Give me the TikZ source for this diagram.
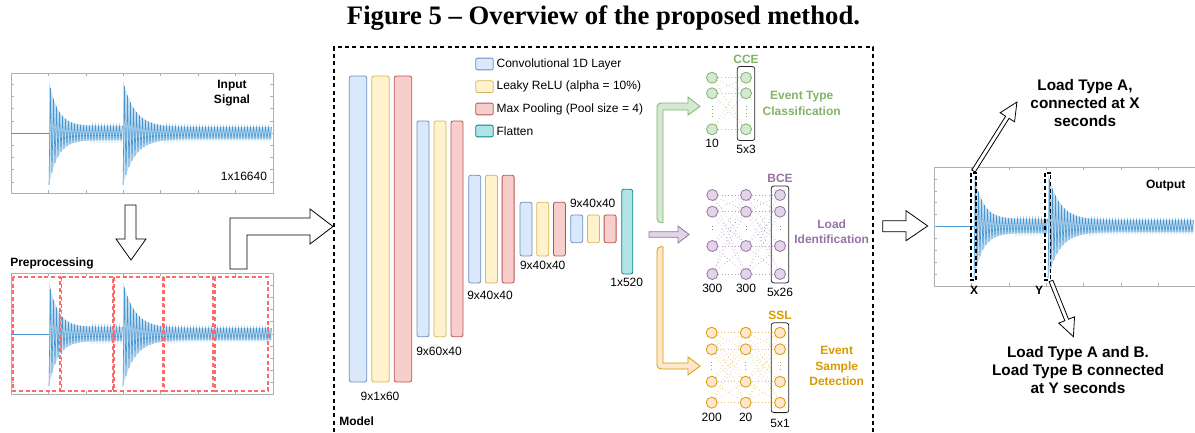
\documentclass[tikz,border=0pt]{standalone}
\usepackage{fontspec}
\setmainfont{Liberation Sans}
\newfontfamily\titlefont{Liberation Serif}
\usetikzlibrary{positioning,fit,calc}
\definecolor{convfill}{HTML}{DAE8FC}\definecolor{convdraw}{HTML}{6C8EBF}
\definecolor{relufill}{HTML}{FFF2CC}\definecolor{reludraw}{HTML}{D6B656}
\definecolor{poolfill}{HTML}{F8CECC}\definecolor{pooldraw}{HTML}{B85450}
\definecolor{flatfill}{HTML}{B0E3E6}\definecolor{flatdraw}{HTML}{0E8088}
\definecolor{ccefill}{HTML}{D5E8D4}\definecolor{ccedraw}{HTML}{82B366}
\definecolor{bcefill}{HTML}{E1D5E7}\definecolor{bcedraw}{HTML}{9673A6}
\definecolor{sslfill}{HTML}{FFE6CC}\definecolor{ssldraw}{HTML}{D79B00}
\definecolor{sigblue}{RGB}{70,150,210}
\definecolor{axisgrey}{RGB}{175,175,175}
\definecolor{winred}{RGB}{255,105,105}
% onset x, centre y, last sample, number of samples after the second onset
\newcommand{\drawsignal}[4]{%
  \draw[sig] (#1-38,#2) -- (#1,#2);
  \fill[sigband] plot[domain=0:49, samples=50] ({#1+1.5*\x}, {#2-(7+45*exp(-1.5*\x/9))})
    -- plot[domain=49:0, samples=50] ({#1+1.5*\x}, {#2+(7+45*exp(-1.5*\x/9))}) -- cycle;
  \fill[sigband] plot[domain=0:#3, samples=#4] ({#1+74+1.5*\x}, {#2-(6+46*exp(-1.5*\x/12))})
    -- plot[domain=#3:0, samples=#4] ({#1+74+1.5*\x}, {#2+(6+46*exp(-1.5*\x/12))}) -- cycle;
  \draw[sig] plot[domain=0:49, samples=50] ({#1+1.5*\x}, {#2+(7+45*exp(-1.5*\x/9))*cos(180*mod(\x,2))});
  \draw[sig] plot[domain=0:#3, samples=#4] ({#1+74+1.5*\x}, {#2+(6+46*exp(-1.5*\x/12))*cos(180*mod(\x,2))});
}
% start, angle, length
\newcommand{\thinarrow}[3]{%
  \draw[hollow, shift={#1}, rotate=#2] (0,-2) -- (#3-18,-2) -- (#3-18,-8.5) -- (#3,0)
    -- (#3-18,8.5) -- (#3-18,2) -- (0,2) -- cycle;
}

\begin{document}
\begin{tikzpicture}[x=0.75pt, y=-0.75pt]
\tikzstyle{lbl}=[font=\fontsize{9}{11.5}\selectfont, inner sep=0pt]
\tikzstyle{blbl}=[lbl, font=\fontsize{9}{11.5}\selectfont\bfseries, align=center]
\tikzstyle{note}=[inner sep=0pt, align=center, font=\fontsize{11.5}{13.5}\selectfont\bfseries]
\tikzstyle{sig}=[sigblue, line width=0.45pt]
\tikzstyle{sigband}=[sigblue!30]
\tikzstyle{frame}=[axisgrey, line width=0.6pt]
\tikzstyle{tick}=[axisgrey, line width=0.4pt]
\tikzstyle{win}=[winred, line width=1.3pt, dash pattern=on 3pt off 2pt]
\tikzstyle{markbox}=[black, line width=1.4pt, dash pattern=on 3pt off 2pt]
\tikzstyle{hollow}=[draw=black, fill=white, line width=0.6pt]
\tikzstyle{conv}=[draw=convdraw, fill=convfill, rounded corners=1.5pt, line width=0.6pt]
\tikzstyle{relu}=[conv, draw=reludraw, fill=relufill]
\tikzstyle{pool}=[conv, draw=pooldraw, fill=poolfill]
\tikzstyle{flat}=[conv, draw=flatdraw, fill=flatfill]
\tikzstyle{legbox}=[minimum width=13.2pt, minimum height=8.8pt, inner sep=0pt]
\tikzstyle{neuron}=[circle, minimum size=8.25pt, inner sep=0pt, line width=0.6pt]
\tikzstyle{outbox}=[draw=black!85, rounded corners=2pt, line width=0.6pt, inner xsep=2.2pt]

\useasboundingbox (0,0) rectangle (1195,432);

\node[inner sep=0pt, font=\titlefont\fontsize{20}{24}\selectfont\bfseries] (title) at (603.5,18)
  {Figure 5 \textendash{} Overview of the proposed method.};

% input signal
\draw[frame] (11,73) rectangle (273,193);
\foreach \y in {84.3,96.5,...,182} {
  \draw[tick] (11,\y) -- ++(3,0); \draw[tick] (273,\y) -- ++(-3,0);
}
\foreach \x in {48.4,85.8,...,236} {
  \draw[tick] (\x,73) -- ++(0,3); \draw[tick] (\x,193) -- ++(0,-3);
}
\drawsignal{49}{133}{99}{100}
\node[blbl] (insig) at (232,93) {Input\\Signal};
\node[lbl] (inlen) at (244,176.7) {1x16640};

% preprocessing
\node[blbl, anchor=west] (prep) at (10,263) {Preprocessing};
\draw[frame] (11,273) rectangle (273,394);
\foreach \y in {285,297.2,...,384} {
  \draw[tick] (11,\y) -- ++(3,0); \draw[tick] (273,\y) -- ++(-3,0);
}
\foreach \x in {48.4,85.8,...,236} {
  \draw[tick] (\x,273) -- ++(0,3); \draw[tick] (\x,394) -- ++(0,-3);
}
\drawsignal{49}{334}{99}{100}
\foreach \xa/\xb in {13/60, 61.5/113, 114/163, 164.5/213, 215/268}
  \draw[win] (\xa,277) rectangle (\xb,391);

% block arrows
\draw[hollow] (125,205) -- (136,205) -- (136,239) -- (146,239) -- (131,260) -- (116,239) -- (125,239) -- cycle;
\draw[hollow] (230,269) -- (230,218) -- (310,218) -- (310,209) -- (333,226.5) -- (310,244) -- (310,235)
  -- (247,235) -- (247,269) -- cycle;
\draw[hollow] (882.7,220.7) -- (906,220.7) -- (906,210.7) -- (927.7,226) -- (906,240.7) -- (906,231.7)
  -- (882.7,231.7) -- cycle;

% model
\draw[line width=1.2pt, dash pattern=on 3pt off 2.5pt] (334,432) -- (334,47) -- (873,47) -- (873,432);
\node[blbl, anchor=west] (model) at (339,421) {Model};

\foreach \xl/\yt/\yb/\w/\d in {349.3/76/382/17.4/22.5, 417/121/336.7/12/17,
    468.7/175.3/283/12/16.7, 520/202.3/256/12/16.7, 570.7/215/242.7/12/16.7} {
  \draw[conv] (\xl,\yt) rectangle ++(\w,\yb-\yt);
  \draw[relu] (\xl+\d,\yt) rectangle ++(\w,\yb-\yt);
  \draw[pool] (\xl+2*\d,\yt) rectangle ++(\w,\yb-\yt);
}
\draw[flat] (621.7,189.3) rectangle (632.7,274);

\node[lbl] (s1) at (380,396.7) {9x1x60};
\node[lbl] (s2) at (439,351) {9x60x40};
\node[lbl] (s3) at (490,295) {9x40x40};
\node[lbl] (s4) at (542.7,265.7) {9x40x40};
\node[lbl] (s5) at (592.7,203) {9x40x40};
\node[lbl] (s6) at (626.7,282.7) {1x520};

% legend
\node[legbox, conv] (lconv) at (484.5,64) {};
\node[legbox, relu] (lrelu) at (484.5,86.7) {};
\node[legbox, pool] (lpool) at (484.5,109) {};
\node[legbox, flat] (lflat) at (484.5,131) {};
\node[lbl, right=2pt of lconv] {Convolutional 1D Layer};
\node[lbl, right=2pt of lrelu] {Leaky ReLU (alpha = 10\%)};
\node[lbl, right=2pt of lpool] {Max Pooling (Pool size = 4)};
\node[lbl, right=2pt of lflat] {Flatten};

% arrows to the heads
\draw[draw=ccedraw, fill=ccefill, line width=0.6pt] (663,222.7) -- (663,110) -- (688,110) -- (688,115) -- (700,106.5)
  -- (688,97) -- (688,103) [rounded corners=3pt] -- (657,103) -- (657,222.7) [sharp corners] -- cycle;
\draw[draw=bcedraw, fill=bcefill, line width=0.6pt] (649,231.7) -- (678,231.7) -- (678,226) -- (689,234.5)
  -- (678,243) -- (678,237.3) -- (649,237.3) -- cycle;
\draw[draw=ssldraw, fill=sslfill, line width=0.6pt] (663,246.7) -- (663,363) -- (688,363) -- (688,357) -- (700,366)
  -- (688,375) -- (688,369) [rounded corners=3pt] -- (657,369) -- (657,246.7) [sharp corners] -- cycle;

% CCE head
\foreach \c/\x in {1/712,2/746}
  \foreach \r/\y in {1/77.7,2/93.3,3/129.3}
    \node[neuron, draw=ccedraw, fill=ccefill] (g\c\r) at (\x,\y) {};
\foreach \i in {1,2,3}
  \foreach \j in {1,2,3}
    \draw[ccedraw!70, dotted, line width=0.5pt] (g1\i) -- (g2\j);
\foreach \c in {1,2}
  \draw[ccedraw, dotted, line width=0.6pt, shorten <=5pt, shorten >=5pt] (g\c2) -- (g\c3);
\node[outbox, inner ysep=4pt, fit=(g21)(g23)] (ccebox) {};
\node[blbl, ccedraw, above=2pt of ccebox] (cce) {CCE};
\node[lbl, below=2.5pt of g13] (n10) {10};
\node[lbl, below=3pt of ccebox] (n53) {5x3};
\node[blbl, ccedraw] (etc) at (801.7,103.3) {Event Type\\Classification};

% BCE head
\foreach \c/\x in {1/712.3,2/746,3/780}
  \foreach \r/\y in {1/195,2/211.7,3/246,4/274}
    \node[neuron, draw=bcedraw, fill=bcefill] (p\c\r) at (\x,\y) {};
\foreach \i in {1,...,4}
  \foreach \j in {1,...,4} {
    \draw[bcedraw!70, dotted, line width=0.5pt] (p1\i) -- (p2\j);
    \draw[bcedraw!70, dotted, line width=0.5pt] (p2\i) -- (p3\j);
  }
\foreach \c in {1,2,3}
  \draw[bcedraw, dotted, line width=0.6pt, shorten <=6pt, shorten >=6pt] (p\c2) -- (p\c3);
\node[outbox, inner ysep=2.3pt, fit=(p31)(p34)] (bcebox) {};
\node[blbl, bcedraw, above=2pt of bcebox] (bce) {BCE};
\node[lbl, below=3.3pt of p14] (n300a) {300};
\node[lbl, below=3.3pt of p24] (n300b) {300};
\node[lbl, below=3.4pt of bcebox] (n526) {5x26};
\node[blbl, bcedraw] (lid) at (831.7,232) {Load\\Identification};

% SSL head
\foreach \c/\x in {1/711.7,2/745.7,3/780}
  \foreach \r/\y in {1/332.7,2/349.3,3/381.7,4/402.7}
    \node[neuron, draw=ssldraw, fill=sslfill] (o\c\r) at (\x,\y) {};
\foreach \i in {1,...,4}
  \foreach \j in {1,...,4} {
    \draw[ssldraw!60, dotted, line width=0.5pt] (o1\i) -- (o2\j);
    \draw[ssldraw!60, dotted, line width=0.5pt] (o2\i) -- (o3\j);
  }
\foreach \c in {1,2,3}
  \draw[ssldraw, dotted, line width=0.6pt, shorten <=5pt, shorten >=5pt] (o\c2) -- (o\c3);
\node[outbox, inner ysep=3pt, fit=(o31)(o34)] (sslbox) {};
\node[blbl, ssldraw, above=2pt of sslbox] (ssl) {SSL};
\node[lbl, below=3.4pt of o14] (n200) {200};
\node[lbl, below=3.4pt of o24] (n20) {20};
\node[lbl, below=4.5pt of sslbox] (n51) {5x1};
\node[blbl, ssldraw] (esd) at (836.7,366) {Event\\Sample\\Detection};

% output signal
\draw[frame] (1195,167) -- (934,167) -- (934,286) -- (1195,286);
\foreach \y in {178.9,190.8,...,280} \draw[tick] (934,\y) -- ++(3,0);
\foreach \x in {971.4,1008.8,...,1190} {
  \draw[tick] (\x,167) -- ++(0,3); \draw[tick] (\x,286) -- ++(0,-3);
}
\drawsignal{974}{226}{97}{98}
\node[blbl] (out) at (1165.7,186) {Output};
\draw[markbox] (970.7,172.7) rectangle (976.3,280);
\draw[markbox] (1045,172.7) rectangle (1050.5,280);
\node[blbl] (xlab) at (974,290.5) {X};
\node[blbl] (ylab) at (1039,290.5) {Y};
\coordinate (xtop) at (973.5,171);
\coordinate (ybot) at (1051,281);
\thinarrow{(xtop)}{57.8}{81.5}
\thinarrow{(ybot)}{-68.1}{60}
\node[note] (noteA) at (1085,103) {Load Type A,\\connected at X\\seconds};
\node[note] (noteB) at (1078,370) {Load Type A and B.\\Load Type B connected\\at Y seconds};
\end{tikzpicture}
\end{document}
